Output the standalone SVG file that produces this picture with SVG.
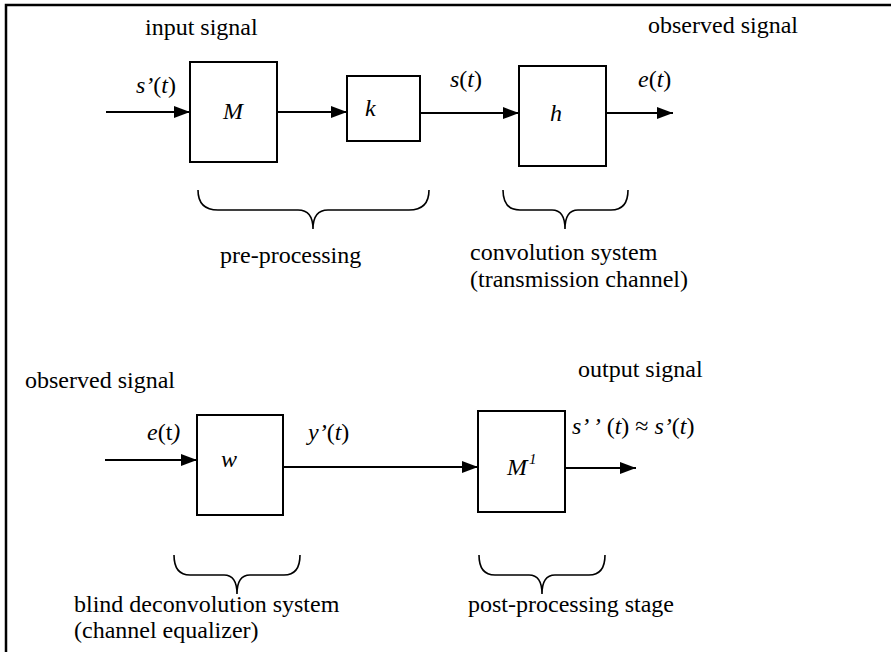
<svg xmlns="http://www.w3.org/2000/svg" width="891" height="652" viewBox="0 0 891 652">
<style>
text{font-family:'Liberation Serif','Times New Roman',serif;font-size:24px;fill:#000}
.i{font-style:italic}
.box{fill:#fff;stroke:#000;stroke-width:2}
.ln{fill:none;stroke:#000;stroke-width:2}
.br{fill:none;stroke:#000;stroke-width:1.6}
</style>
<defs>
<marker id="ah" markerWidth="16" markerHeight="12" refX="16" refY="6" orient="auto" markerUnits="userSpaceOnUse">
<path d="M0,0 L16,6 L0,12 Z" fill="#000"/>
</marker>
</defs>
<rect width="891" height="652" fill="#fff"/>
<path d="M6,652 V5 H891" fill="none" stroke="#000" stroke-width="2.5"/>
<g id="connectors">
<line class="ln" x1="106" y1="112" x2="190" y2="112" marker-end="url(#ah)"/>
<line class="ln" x1="277" y1="112" x2="347" y2="112" marker-end="url(#ah)"/>
<line class="ln" x1="420" y1="113" x2="519" y2="113" marker-end="url(#ah)"/>
<line class="ln" x1="600" y1="113" x2="673" y2="113" marker-end="url(#ah)"/>
<line class="ln" x1="105" y1="460" x2="197" y2="460" marker-end="url(#ah)"/>
<line class="ln" x1="283" y1="467" x2="478" y2="467" marker-end="url(#ah)"/>
<line class="ln" x1="565" y1="468" x2="636" y2="468" marker-end="url(#ah)"/>
</g>
<g id="node-M"><rect class="box" x="190" y="62" width="87" height="100"/><text class="i" x="233" y="119" text-anchor="middle">M</text></g>
<g id="node-k"><rect class="box" x="347" y="76" width="73" height="65"/><text class="i" x="365" y="116">k</text></g>
<g id="node-h"><rect class="box" x="519" y="66" width="87" height="100"/><text class="i" x="556" y="121" text-anchor="middle">h</text></g>
<g id="node-w"><rect class="box" x="197" y="415" width="86" height="100"/><text class="i" x="229" y="467" text-anchor="middle">w</text></g>
<g id="node-Minv"><rect class="box" x="478" y="411" width="87" height="101"/><text x="507" y="475"><tspan class="i">M</tspan><tspan class="i" font-size="15" dx="-3" dy="-11">-1</tspan></text></g>
<g id="labels">
<text x="145" y="35">input signal</text>
<text x="648" y="33">observed signal</text>
<text x="136" y="93"><tspan class="i">s’</tspan>(<tspan class="i">t</tspan>)</text>
<text x="450" y="87"><tspan class="i">s</tspan>(<tspan class="i">t</tspan>)</text>
<text x="638" y="87"><tspan class="i">e</tspan>(<tspan class="i">t</tspan>)</text>
<text x="220" y="263">pre-processing</text>
<text x="470" y="260">convolution system</text>
<text x="470" y="287">(transmission channel)</text>
<text x="25" y="388">observed signal</text>
<text x="147" y="440"><tspan class="i">e</tspan>(t<tspan class="i">)</tspan></text>
<text x="308" y="440"><tspan class="i">y’</tspan>(<tspan class="i">t</tspan>)</text>
<text x="578" y="377">output signal</text>
<text x="572" y="434"><tspan class="i">s’ ’</tspan> (<tspan class="i">t</tspan>) ≈ <tspan class="i">s’</tspan>(<tspan class="i">t</tspan>)</text>
<text x="74" y="612">blind deconvolution system</text>
<text x="74" y="638">(channel equalizer)</text>
<text x="468" y="612">post-processing stage</text>
</g>
<g id="braces">
<path class="br" d="M198,190 Q198,210 218,210 H298 Q313,210 313,229 Q313,210 328,210 H409 Q429,210 429,190"/>
<path class="br" d="M503,190 Q503,210 520,210 H552 Q565,210 565,229 Q565,210 578,210 H611 Q628,210 628,190"/>
<path class="br" d="M174,555 Q174,575 190,575 H224 Q237,575 237,594 Q237,575 250,575 H284 Q300,575 300,555"/>
<path class="br" d="M479,555 Q479,575 495,575 H529 Q542,575 542,594 Q542,575 555,575 H589 Q605,575 605,555"/>
</g>
</svg>
